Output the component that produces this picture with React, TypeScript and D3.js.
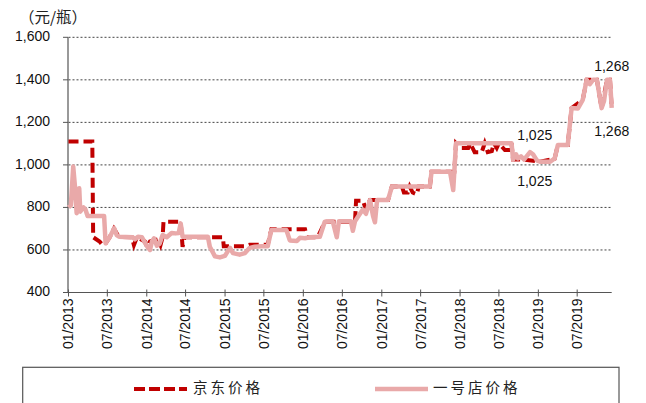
import React from "react"
import * as d3 from "d3"

// 京东价格 (dashed dark red)
const jdDates = [
  "2013-01-01", "2013-04-22", "2013-04-26", "2013-05-26", "2013-06-09", "2013-06-23", "2013-07-12",
  "2013-08-01", "2013-08-23", "2013-10-23", "2013-11-02", "2013-11-16", "2013-12-23", "2014-01-02",
  "2014-01-16", "2014-02-22", "2014-03-06", "2014-03-16", "2014-03-20", "2014-06-08", "2014-06-17",
  "2014-06-26", "2014-12-22", "2014-12-26", "2015-04-03", "2015-04-26", "2015-07-19", "2015-08-05",
  "2016-01-09", "2016-01-18", "2016-03-08", "2016-03-27", "2016-04-10", "2016-08-29", "2016-09-03",
  "2016-10-05", "2016-10-19", "2016-11-07", "2017-01-30", "2017-02-17", "2017-04-05", "2017-04-14",
  "2017-05-02", "2017-05-11", "2017-05-25", "2017-06-13", "2017-06-22", "2017-08-13", "2017-08-21",
  "2017-12-05", "2017-12-13", "2018-01-02", "2018-02-08", "2018-02-17", "2018-03-10", "2018-04-12",
  "2018-04-26", "2018-05-10", "2018-05-29", "2018-06-08", "2018-06-21", "2018-07-01", "2018-07-29",
  "2018-08-22", "2018-08-29", "2018-09-05", "2018-10-26", "2019-01-09", "2019-03-18", "2019-04-02",
  "2019-05-18", "2019-06-05", "2019-07-27", "2019-08-14", "2019-10-01", "2019-10-23", "2019-11-17",
  "2019-12-01", "2019-12-09",
]
const jdPrices = [
  1110, 1110, 660, 640, 623, 631, 660,
  700, 662, 660, 623, 660, 640, 615,
  640, 650, 623, 660, 733, 733, 615,
  660, 660, 618, 618, 625, 625, 697,
  697, 660, 660, 700, 733, 733, 832,
  832, 790, 835, 835, 898, 898, 870,
  870, 898, 870, 862, 898, 898, 968,
  968, 1102, 1080, 1080, 1102, 1060, 1060,
  1102, 1060, 1065, 1102, 1080, 1102, 1070,
  1070, 1102, 1025, 1025, 1015, 1030, 1094,
  1094, 1267, 1306, 1400, 1400, 1267, 1400,
  1400, 1268,
]

// 一号店价格 (light pink)
const yhdDates = [
  "2013-01-01", "2013-01-12", "2013-01-23", "2013-01-31", "2013-02-08", "2013-02-14", "2013-02-20",
  "2013-02-25", "2013-03-03", "2013-03-12", "2013-03-21", "2013-03-31", "2013-04-10", "2013-06-16",
  "2013-06-23", "2013-07-12", "2013-08-02", "2013-08-14", "2013-08-25", "2013-10-27", "2013-11-07",
  "2013-11-21", "2013-12-09", "2013-12-23", "2014-01-07", "2014-01-16", "2014-01-25", "2014-02-04",
  "2014-02-17", "2014-03-02", "2014-03-16", "2014-04-04", "2014-04-27", "2014-05-16", "2014-05-30",
  "2014-06-08", "2014-06-17", "2014-10-13", "2014-10-22", "2014-11-15", "2014-12-08", "2014-12-31",
  "2015-01-24", "2015-02-07", "2015-03-10", "2015-04-03", "2015-04-26", "2015-05-19", "2015-06-21",
  "2015-07-19", "2015-08-05", "2015-10-14", "2015-10-30", "2015-12-02", "2015-12-16", "2016-01-09",
  "2016-02-01", "2016-03-18", "2016-04-10", "2016-05-17", "2016-06-05", "2016-06-15", "2016-08-10",
  "2016-08-19", "2016-08-29", "2016-09-21", "2016-10-05", "2016-10-19", "2016-11-07", "2016-11-21",
  "2016-11-30", "2016-12-10", "2017-01-07", "2017-01-30", "2017-02-17", "2017-08-13", "2017-08-21",
  "2017-11-15", "2017-11-30", "2017-12-13", "2018-08-29", "2018-09-05", "2018-09-19", "2018-09-28",
  "2018-10-12", "2018-10-26", "2018-11-23", "2018-12-07", "2018-12-26", "2019-01-09", "2019-02-25",
  "2019-03-18", "2019-04-02", "2019-05-18", "2019-06-05", "2019-07-04", "2019-07-27", "2019-08-14",
  "2019-08-29", "2019-09-13", "2019-10-01", "2019-10-23", "2019-11-03", "2019-11-17", "2019-12-01",
  "2019-12-09",
]
const yhdPrices = [
  800, 810, 992, 900, 773, 800, 890,
  780, 790, 800, 790, 760, 760, 760,
  631, 660, 702, 670, 662, 660, 650,
  662, 660, 635, 610, 600, 640, 655,
  620, 630, 670, 660, 680, 678, 680,
  725, 662, 662, 615, 570, 565, 572,
  610, 585, 578, 585, 610, 615, 618,
  618, 694, 694, 645, 642, 657, 655,
  660, 662, 733, 735, 660, 735, 735,
  690, 735, 770, 790, 770, 835, 760,
  730, 835, 835, 835, 898, 898, 968,
  968, 882, 1102, 1102, 1024, 1050, 1030,
  1040, 1025, 1060, 1050, 1020, 1015, 1015,
  1030, 1094, 1094, 1267, 1265, 1306, 1400,
  1380, 1400, 1400, 1267, 1300, 1400, 1400,
  1268,
]

const yTicks = [400, 600, 800, 1000, 1200, 1400, 1600]

const labelTexts = ["1,025", "1,025", "1,268", "1,268"]
const labelDates = ["2018-12-15", "2018-12-15", "2019-12-09", "2019-12-09"]
const labelValues = [1025, 1025, 1268, 1268]
const labelShift = [-23, 23, -41, 24]

const parse = d3.timeParse("%Y-%m-%d")
const fmt = d3.timeFormat("%m/%Y")
const font = "'Liberation Sans', Arial, sans-serif"
const cjk = "'Noto Sans CJK SC', sans-serif"

export default function App() {
  const x = d3
    .scaleTime()
    .domain([parse("2013-01-01")!, parse("2019-12-09")!])
    .range([68.5, 611.7])
  const y = d3.scaleLinear().domain([400, 1600]).range([292.5, 37.3])

  const jd = jdDates.map((d, i) => ({ date: parse(d)!, v: jdPrices[i] }))
  const yhd = yhdDates.map((d, i) => ({ date: parse(d)!, v: yhdPrices[i] }))

  const line = d3
    .line<{ date: Date; v: number }>()
    .x(d => x(d.date))
    .y(d => y(d.v))

  const xTicks = d3.timeMonth.every(6)!.range(parse("2013-01-01")!, parse("2019-12-01")!)
  const [x0, x1] = x.range()

  return (
    <div style={{ position: "absolute", left: 0, top: 0 }}>
      <svg width={646} height={403} style={{ display: "block", background: "#fff" }}>
        <text x={19} y={19} fontFamily={cjk} fontSize={15.5} dominantBaseline="middle" fill="#222">
          （元/瓶）
        </text>

        {yTicks.map(t => (
          <g key={t}>
            {t > 400 && (
              <line x1={x0} x2={x1} y1={y(t)} y2={y(t)} stroke="#444" strokeWidth={1} strokeDasharray="2,2" />
            )}
            <line x1={63} x2={68} y1={y(t)} y2={y(t)} stroke="#555" />
            <text x={50} y={y(t)} textAnchor="end" dominantBaseline="middle" fontFamily={font} fontSize={14} fill="#111">
              {d3.format(",")(t)}
            </text>
          </g>
        ))}

        <line x1={68} x2={68} y1={y(1600)} y2={y(400)} stroke="#555" strokeWidth={1.2} />
        <line x1={68} x2={x1} y1={y(400)} y2={y(400)} stroke="#555" strokeWidth={1.2} />

        {xTicks.map(t => (
          <g key={t.getTime()} transform={`translate(${x(t)},${y(400)})`}>
            <line y1={-3} y2={4} stroke="#555" />
            <text transform="rotate(-90)" x={-6} dy="0.35em" textAnchor="end" fontFamily={font} fontSize={14} fill="#111">
              {fmt(t)}
            </text>
          </g>
        ))}

        <path d={line(jd)!} fill="none" stroke="#C00000" strokeWidth={4} strokeDasharray="10,5" />
        <path d={line(yhd)!} fill="none" stroke="#E9A9A9" strokeWidth={4.5} strokeLinejoin="round" />

        {labelTexts.map((s, i) => (
          <text
            key={i}
            x={x(parse(labelDates[i])!)}
            y={y(labelValues[i]) + labelShift[i]}
            textAnchor="middle"
            dominantBaseline="middle"
            fontFamily={font}
            fontSize={14}
            fill="#111"
          >
            {s}
          </text>
        ))}

        <rect x={22.7} y={367.3} width={596.3} height={60} fill="none" stroke="#555" strokeWidth={1.2} />
        <line x1={134} x2={187} y1={389} y2={389} stroke="#C00000" strokeWidth={4} strokeDasharray="11,4" />
        <text x={193} y={389} dominantBaseline="middle" fontFamily={cjk} fontSize={14.5} letterSpacing={3} fill="#222">
          京东价格
        </text>
        <line x1={375} x2={428} y1={389} y2={389} stroke="#E9A9A9" strokeWidth={4.5} />
        <text x={433} y={389} dominantBaseline="middle" fontFamily={cjk} fontSize={14.5} letterSpacing={3} fill="#222">
          一号店价格
        </text>
      </svg>
    </div>
  )
}
